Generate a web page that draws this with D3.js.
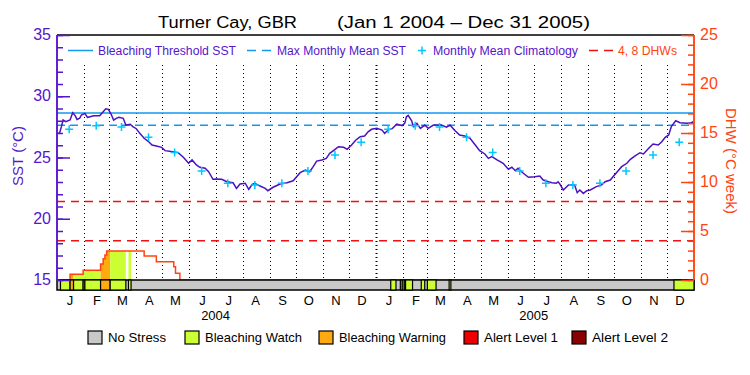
<!DOCTYPE html>
<meta charset="utf-8">
<style>
    html,
    body {
        width: 100%;
        height: 100%;
        background: #fff;
    }

    * {
        margin: 0;
        padding: 0;
    }

    svg {
        display: block;
        font-family: "Liberation Sans", Arial, sans-serif;
    }
</style>

<body>
    <svg width="750" height="375"></svg>
    <script src="https://cdn.jsdelivr.net/npm/d3@7"></script>
    <script>
        // days counted from Jan 1 2004
        const sstDay = [0, 3, 5, 7, 10, 15, 18, 21, 23, 26, 28, 32, 35, 38, 42, 49, 53, 56, 59, 62, 65, 68, 71, 76, 79, 84, 87, 91, 95, 100,
            105, 109, 114, 120, 124, 133, 139, 145, 151, 155, 160, 164, 170, 174, 179, 183, 189, 195, 202, 206, 210, 216, 220, 224, 227, 233,
            239, 242, 248, 256, 264, 271, 275, 279, 285, 290, 294, 298, 304, 309, 313, 318, 323, 329, 333, 338, 343, 348, 353, 357, 361,
            367, 373, 376, 380, 385, 390, 396, 399, 401, 403, 407, 409, 413, 417, 422, 426, 432, 441, 447, 451, 456, 462, 468, 474, 480,
            485, 491, 495, 499, 505, 512, 518, 522, 526, 529, 533, 541, 548, 554, 558, 564, 568, 573, 575, 577, 581, 587, 594, 597, 600,
            604, 608, 612, 619, 625, 629, 635, 638, 642, 648, 654, 658, 663, 669, 673, 679, 684, 690, 694, 698, 702, 705, 710, 715, 723,
            728, 730];
        const sstVal = [26.97, 27.0, 27.5, 28.06, 27.92, 28.06, 28.66, 28.4, 28.1, 28.2, 28.47, 28.6, 28.28, 28.33, 28.4, 28.4, 28.74, 28.98,
            28.93, 28.55, 28.06, 28.2, 28.28, 28.2, 27.65, 27.71, 27.52, 27.35, 26.97, 26.57, 26.3, 26.02, 25.94, 25.83, 25.56, 25.47,
            25.4, 25.02, 24.53, 24.8, 24.39, 24.2, 24.12, 23.84, 23.22, 23.24, 23.22, 23.02, 22.94, 22.48, 22.84, 22.9, 22.4, 22.8, 22.9,
            22.67, 22.48, 22.29, 22.57, 22.84, 22.94, 23.1, 23.43, 23.76, 23.98, 23.84, 24.25, 24.71, 24.8, 24.93, 25.34, 25.61, 25.88,
            25.83, 25.67, 26.02, 26.43, 26.7, 26.76, 27.1, 27.3, 27.38, 27.24, 26.97, 27.24, 27.38, 27.73, 27.6, 27.79, 28.33, 28.44,
            28.0, 27.52, 27.79, 27.38, 27.65, 27.38, 27.65, 27.65, 27.47, 27.65, 27.24, 26.84, 26.76, 26.57, 26.02, 25.56, 25.29, 24.93,
            25.07, 24.8, 24.53, 24.04, 24.2, 23.92, 24.12, 23.84, 23.38, 23.43, 23.49, 23.16, 23.02, 22.94, 22.9, 23.02, 22.84, 22.35,
            22.76, 22.76, 22.13, 22.35, 22.07, 22.29, 22.35, 22.62, 22.76, 23.02, 23.16, 23.43, 23.76, 24.25, 24.53, 24.85, 25.12,
            25.39, 25.29, 25.75, 26.1, 26.02, 26.29, 26.65, 26.84, 27.52, 28.0, 27.84, 27.79, 27.84, 27.92];

        // monthly mean climatology, Jan..Dec (same both years)
        const climVal = [27.3, 27.6, 27.5, 26.65, 25.4, 23.9, 22.9, 22.75, 22.9, 23.9, 25.2, 26.25];
        const mmm = 27.63;
        const threshold = mmm + 1;
        const dhwLevels = [4, 8];

        const dhwDay = [0, 15, 30, 50, 53, 55, 57, 100, 114, 134, 136, 141, 731];
        const dhwVal = [0, 0.58, 0.99, 1.63, 2.17, 2.55, 2.96, 2.45, 1.87, 1.36, 0.68, 0, 0];

        // stress periods: [start day, end day, level]
        const stress = [[4, 15, 1], [15, 19, 2], [19, 30, 1], [30, 32, 1], [32, 50, 1], [50, 61, 2], [61, 79, 1], [82, 85, 1],
            [383, 389, 1], [394, 396, 1], [397, 399, 1], [400, 408, 1], [418, 422, 1], [425, 435, 1], [450, 452, 1], [708, 731, 1]];
        const stressNames = ['No Stress', 'Bleaching Watch', 'Bleaching Warning', 'Alert Level 1', 'Alert Level 2'];
        const stressColors = ['#c8c8c8', '#ccff33', '#ffaa11', '#ee0000', '#8b0000'];

        const monthLetters = ['J', 'F', 'M', 'A', 'M', 'J', 'J', 'A', 'S', 'O', 'N', 'D'];
        const years = [2004, 2005];
        const sstTicks = [15, 20, 25, 30, 35];
        const dhwTicks = [0, 5, 10, 15, 20, 25];

        const purple = '#5516cc';
        const orange = '#ff4411';
        const blue = '#1199ee';

        const start = new Date(2004, 0, 1);
        const end = new Date(2006, 0, 1);
        const day = d => d3.timeDay.offset(start, d);

        const plotL = 57, plotR = 694, plotT = 35, plotB = 280, barH = 10;
        const x = d3.scaleTime().domain([start, end]).range([plotL, plotR]);
        const y = d3.scaleLinear().domain([15, 35]).range([plotB, plotT]);
        const yd = d3.scaleLinear().domain([0, 25]).range([plotB, plotT]);

        const svg = d3.select('svg');

        // title
        svg.append('text').attr('x', 158).attr('y', 28).attr('font-size', 16)
            .attr('textLength', 139).attr('lengthAdjust', 'spacingAndGlyphs').text('Turner Cay, GBR');
        svg.append('text').attr('x', 337).attr('y', 28).attr('font-size', 16)
            .attr('textLength', 253).attr('lengthAdjust', 'spacingAndGlyphs').text('(Jan 1 2004 \u2013 Dec 31 2005)');

        // month grid
        const months = d3.timeMonth.range(start, end);
        svg.append('g').selectAll('line').data(months.slice(1)).join('line')
            .attr('x1', d => Math.round(x(d)) + 0.5).attr('x2', d => Math.round(x(d)) + 0.5)
            .attr('y1', 65).attr('y2', plotB)
            .attr('stroke', '#000')
            .attr('stroke-width', d => d.getMonth() === 0 ? 2 : 1)
            .attr('stroke-dasharray', '1,3');

        // thresholds
        svg.append('line').attr('x1', plotL).attr('x2', plotR).attr('y1', y(threshold)).attr('y2', y(threshold))
            .attr('stroke', blue).attr('stroke-width', 1.5);
        svg.append('line').attr('x1', plotL).attr('x2', plotR).attr('y1', y(mmm)).attr('y2', y(mmm))
            .attr('stroke', blue).attr('stroke-width', 1.5).attr('stroke-dasharray', '8,5');
        svg.append('g').selectAll('line').data(dhwLevels).join('line')
            .attr('x1', plotL).attr('x2', plotR).attr('y1', d => yd(d)).attr('y2', d => yd(d))
            .attr('stroke', '#ee1111').attr('stroke-width', 1.5).attr('stroke-dasharray', '8,6');

        // DHW filled by stress level
        const dhwPts = dhwDay.map((d, i) => [day(d), dhwVal[i]]);
        const area = d3.area().curve(d3.curveStepAfter)
            .x(d => x(d[0])).y0(yd(0)).y1(d => yd(d[1]));
        const defs = svg.append('defs');
        stress.forEach((s, i) => {
            defs.append('clipPath').attr('id', 'clip' + i).append('rect')
                .attr('x', x(day(s[0]))).attr('width', x(day(s[1])) - x(day(s[0])))
                .attr('y', plotT).attr('height', plotB - plotT);
            svg.append('path').datum(dhwPts).attr('d', area)
                .attr('fill', stressColors[s[2]]).attr('clip-path', 'url(#clip' + i + ')');
        });
        svg.append('path').datum(dhwPts)
            .attr('d', d3.line().curve(d3.curveStepAfter).x(d => x(d[0])).y(d => yd(d[1])))
            .attr('fill', 'none').attr('stroke', orange).attr('stroke-width', 1.5);

        // SST line
        svg.append('path').datum(sstDay.map((d, i) => [day(d), sstVal[i]]))
            .attr('d', d3.line().x(d => x(d[0])).y(d => y(d[1])))
            .attr('fill', 'none').attr('stroke', '#4a12c0').attr('stroke-width', 1.5);

        // climatology crosses
        const clim = [];
        years.forEach(yr => climVal.forEach((v, m) => clim.push([new Date(yr, m, 15), v])));
        const cross = svg.append('g').attr('stroke', '#00c8ff').attr('stroke-width', 1.5);
        clim.forEach(c => {
            cross.append('path').attr('d', `M${x(c[0]) - 4},${y(c[1])}h8M${x(c[0])},${y(c[1]) - 4}v8`);
        });

        // stress bar
        svg.append('rect').attr('x', plotL).attr('y', plotB).attr('width', plotR - plotL).attr('height', barH)
            .attr('fill', stressColors[0]).attr('stroke', '#000').attr('stroke-width', 1.5);
        svg.append('g').selectAll('rect').data(stress).join('rect')
            .attr('x', d => x(day(d[0]))).attr('y', plotB)
            .attr('width', d => x(day(d[1])) - x(day(d[0]))).attr('height', barH)
            .attr('fill', d => stressColors[d[2]]).attr('stroke', '#000').attr('stroke-width', 1.2);

        // frame
        svg.append('line').attr('x1', plotL).attr('x2', plotR).attr('y1', plotT).attr('y2', plotT)
            .attr('stroke', '#000').attr('stroke-width', 1.5);

        // left axis
        const leftAxis = svg.append('g').attr('transform', `translate(${plotL},0)`);
        leftAxis.call(d3.axisRight(y).ticks(20).tickSize(6).tickFormat(''));
        leftAxis.append('g').call(d3.axisRight(y).tickValues(sstTicks).tickSize(13).tickFormat(''));
        leftAxis.selectAll('.domain').attr('d', `M0,${plotT}V${plotB}`);
        leftAxis.selectAll('line, path').attr('stroke', purple).attr('stroke-width', 1.5);
        svg.append('g').selectAll('text').data(sstTicks).join('text')
            .attr('x', 51).attr('y', d => y(d) + 5).attr('text-anchor', 'end')
            .attr('font-size', 16).attr('fill', purple).text(d => d);
        svg.append('text').attr('transform', 'translate(23,156) rotate(-90)')
            .attr('text-anchor', 'middle').attr('font-size', 15).attr('fill', purple).text('SST (\u00b0C)');

        // right axis
        const rightAxis = svg.append('g').attr('transform', `translate(${plotR},0)`);
        rightAxis.call(d3.axisLeft(yd).ticks(25).tickSize(6).tickFormat(''));
        rightAxis.append('g').call(d3.axisLeft(yd).tickValues(dhwTicks).tickSize(13).tickFormat(''));
        rightAxis.selectAll('.domain').attr('d', `M0,${plotT}V${plotB}`);
        rightAxis.selectAll('line, path').attr('stroke', orange).attr('stroke-width', 1.5);
        svg.append('g').selectAll('text').data(dhwTicks).join('text')
            .attr('x', 700).attr('y', d => yd(d) + 5)
            .attr('font-size', 16).attr('fill', orange).text(d => d);
        svg.append('text').attr('transform', 'translate(726,161) rotate(90)')
            .attr('text-anchor', 'middle').attr('font-size', 15).attr('fill', orange).text('DHW (\u00b0C week)');

        // month and year labels
        svg.append('g').selectAll('text').data(months).join('text')
            .attr('x', d => x(d3.timeDay.offset(d, 15))).attr('y', 305)
            .attr('text-anchor', 'middle').attr('font-size', 13).text(d => monthLetters[d.getMonth()]);
        svg.append('g').selectAll('text').data(years).join('text')
            .attr('x', d => x(new Date(d, 6, 1))).attr('y', 320)
            .attr('text-anchor', 'middle').attr('font-size', 13).text(d => d);

        // top legend
        const lg = svg.append('g').attr('font-size', 12);
        lg.append('line').attr('x1', 68).attr('x2', 93).attr('y1', 50.5).attr('y2', 50.5)
            .attr('stroke', blue).attr('stroke-width', 1.5);
        lg.append('text').attr('x', 98).attr('y', 55).attr('fill', purple)
            .attr('textLength', 138).attr('lengthAdjust', 'spacingAndGlyphs').text('Bleaching Threshold SST');
        lg.append('line').attr('x1', 247).attr('x2', 271).attr('y1', 50.5).attr('y2', 50.5)
            .attr('stroke', blue).attr('stroke-width', 1.5).attr('stroke-dasharray', '9,6');
        lg.append('text').attr('x', 277).attr('y', 55).attr('fill', purple)
            .attr('textLength', 129).attr('lengthAdjust', 'spacingAndGlyphs').text('Max Monthly Mean SST');
        lg.append('path').attr('d', 'M418,50.5h8M422,46.5v8').attr('stroke', '#00c8ff').attr('stroke-width', 1.5);
        lg.append('text').attr('x', 433).attr('y', 55).attr('fill', purple)
            .attr('textLength', 145).attr('lengthAdjust', 'spacingAndGlyphs').text('Monthly Mean Climatology');
        lg.append('line').attr('x1', 589).attr('x2', 613).attr('y1', 50.5).attr('y2', 50.5)
            .attr('stroke', '#ee1111').attr('stroke-width', 1.5).attr('stroke-dasharray', '9,6');
        lg.append('text').attr('x', 618).attr('y', 55).attr('fill', orange)
            .attr('textLength', 59).attr('lengthAdjust', 'spacingAndGlyphs').text('4, 8 DHWs');

        // stress legend
        const legX = [88, 185, 319, 464, 572];
        const legW = [58, 97, 107, 74, 76];
        const sl = svg.append('g').selectAll('g').data(stressNames).join('g')
            .attr('transform', (d, i) => `translate(${legX[i]},331)`);
        sl.append('rect').attr('width', 14).attr('height', 13)
            .attr('fill', (d, i) => stressColors[i]).attr('stroke', '#000').attr('stroke-width', 1.2);
        sl.append('text').attr('x', 20).attr('y', 11).attr('font-size', 13)
            .attr('textLength', (d, i) => legW[i]).attr('lengthAdjust', 'spacingAndGlyphs').text(d => d);
    </script>
</body>

</html>
